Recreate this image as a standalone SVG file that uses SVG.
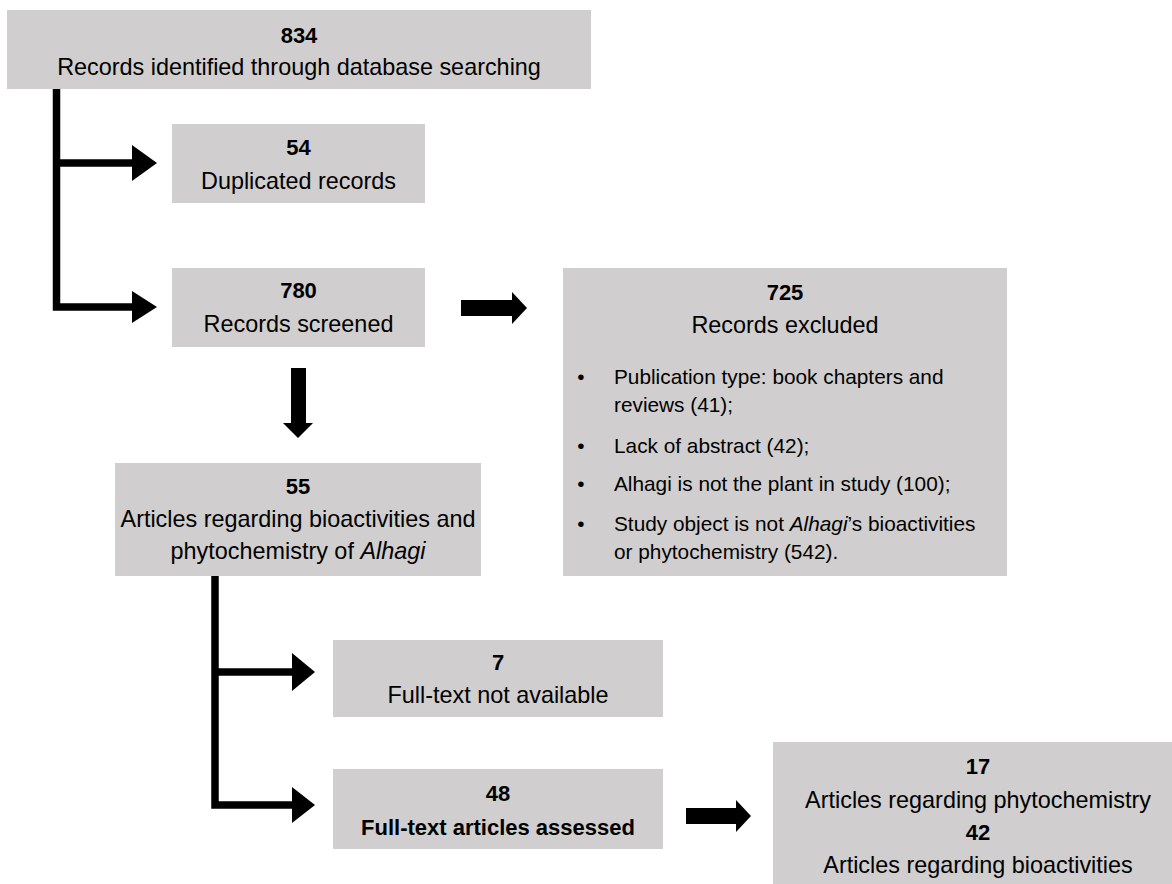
<svg xmlns="http://www.w3.org/2000/svg" width="1172" height="884" viewBox="0 0 1172 884">
<style>
.box{fill:#d0cece;}
text{font-family:"Liberation Sans",Arial,sans-serif;font-size:23.4px;fill:#000;text-anchor:middle;}
.num{font-weight:bold;font-size:22px;}
.b{font-weight:bold;font-size:22px;}
.bl{font-size:20.8px;text-anchor:start;}
.bu{font-size:20.8px;}
.line{fill:none;stroke:#000;stroke-width:7.5;stroke-linejoin:miter;}
.head{fill:#000;}
</style>
<rect width="1172" height="884" fill="#fff"/>
<g id="connectors">
<path class="line" d="M56.5,89 V307 H134"/>
<path class="line" d="M56.5,163 H134"/>
<polygon class="head" points="132,145 157,163 132,181"/>
<polygon class="head" points="132,291 157,307 132,323"/>
<polygon class="head" points="461,300 512,300 512,292 527,308 512,324 512,316 461,316"/>
<polygon class="head" points="291,368 306,368 306,423 313,423 298,438 283,423 291,423"/>
<path class="line" d="M215,576 V805 H294"/>
<path class="line" d="M215,672 H294"/>
<polygon class="head" points="292,653 315,672 292,691"/>
<polygon class="head" points="292,787 315,805 292,823"/>
<polygon class="head" points="686,808 736,808 736,800 751,816 736,832 736,824 686,824"/>
</g>
<g id="n834">
<rect class="box" x="7" y="10" width="584" height="79"/>
<text class="num" x="299" y="43">834</text>
<text x="299" y="75">Records identified through database searching</text>
</g>
<g id="n54">
<rect class="box" x="172" y="124" width="253" height="79"/>
<text class="num" x="298.5" y="155">54</text>
<text x="298.5" y="189">Duplicated records</text>
</g>
<g id="n780">
<rect class="box" x="172" y="268" width="253" height="79"/>
<text class="num" x="298.5" y="298">780</text>
<text x="298.5" y="332">Records screened</text>
</g>
<g id="n725">
<rect class="box" x="563" y="268" width="444" height="308"/>
<text class="num" x="785" y="300">725</text>
<text x="785" y="333">Records excluded</text>
<text class="bu" x="581" y="384">•</text>
<text class="bl" x="614" y="384">Publication type: book chapters and</text>
<text class="bl" x="614" y="412">reviews (41);</text>
<text class="bu" x="581" y="453">•</text>
<text class="bl" x="614" y="453">Lack of abstract (42);</text>
<text class="bu" x="581" y="491">•</text>
<text class="bl" x="614" y="491">Alhagi is not the plant in study (100);</text>
<text class="bu" x="581" y="531">•</text>
<text class="bl" x="614" y="531">Study object is not <tspan font-style="italic">Alhagi</tspan>’s bioactivities</text>
<text class="bl" x="614" y="559">or phytochemistry (542).</text>
</g>
<g id="n55">
<rect class="box" x="115" y="463" width="366" height="113"/>
<text class="num" x="298" y="494">55</text>
<text x="298" y="527">Articles regarding bioactivities and</text>
<text x="298" y="559">phytochemistry of <tspan font-style="italic">Alhagi</tspan></text>
</g>
<g id="n7">
<rect class="box" x="333" y="640" width="330" height="77"/>
<text class="num" x="498" y="670">7</text>
<text x="498" y="703">Full-text not available</text>
</g>
<g id="n48">
<rect class="box" x="333" y="769" width="330" height="80"/>
<text class="num" x="498" y="801">48</text>
<text class="b" x="498" y="835">Full-text articles assessed</text>
</g>
<g id="nres">
<rect class="box" x="773" y="742" width="399" height="142"/>
<text class="num" x="978" y="774">17</text>
<text x="978" y="808">Articles regarding phytochemistry</text>
<text class="num" x="978" y="840">42</text>
<text x="978" y="873">Articles regarding bioactivities</text>
</g>
</svg>
